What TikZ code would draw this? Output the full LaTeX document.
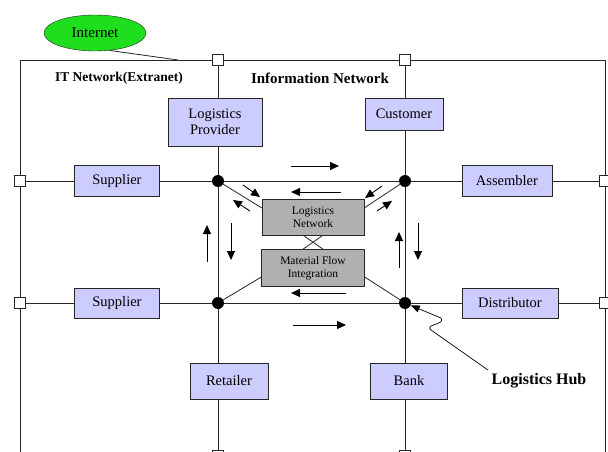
\documentclass[tikz,border=0pt]{standalone}
\usepackage{fontspec}
\setmainfont{Liberation Serif}
\usepackage{tikz}
\usetikzlibrary{positioning, shapes.geometric, arrows.meta, calc}

\definecolor{partyblue}{RGB}{204,204,255}
\definecolor{coregrey}{RGB}{176,176,176}
\definecolor{webgreen}{RGB}{30,222,30}

\begin{document}
\begin{tikzpicture}[x=1pt, y=-1pt,
            party/.style={draw=black!85, fill=partyblue, rectangle, inner sep=0pt, align=center, font=\fontsize{14.5}{16}\selectfont},
            core/.style={draw=black!85, fill=coregrey, rectangle, inner sep=0pt, align=center, font=\fontsize{11.5}{13}\selectfont},
            hub/.style={circle, fill=black, inner sep=0pt, minimum size=12pt},
            port/.style={draw=black!85, fill=white, rectangle, inner sep=0pt, minimum size=11pt},
            link/.style={draw=black!85, line width=0.8pt},
            flow/.style={line width=0.9pt, -{Triangle[length=9pt, width=8pt]}},
            title/.style={font=\bfseries\fontsize{13.5}{15}\selectfont}
        ]

        \useasboundingbox (0,0) rectangle (608,452);
        \clip (0,0) rectangle (608,452);

        % frame of the extranet
        \draw[link] (20,470) -- (20,60) -- (605,60) -- (605,470);

        % ports
        \node[port] (pt1) at (218,60) {};
        \node[port] (pt2) at (405,60) {};
        \node[port] (pl1) at (20,181) {};
        \node[port] (pl2) at (20,303) {};
        \node[port] (pr1) at (605,181) {};
        \node[port] (pr2) at (605,303) {};
        \node[port] (pb1) at (218,456) {};
        \node[port] (pb2) at (405,456) {};

        % hubs
        \node[hub] (h1) at (218,181) {};
        \node[hub] (h2) at (405,181) {};
        \node[hub] (h3) at (218,303) {};
        \node[hub] (h4) at (405,303) {};

        % partners
        \node[party, minimum width=94pt, minimum height=48pt] (lp) at (215,122) {Logistics\\Provider};
        \node[party, minimum width=78pt, minimum height=32pt] (cu) at (404,114) {Customer};
        \node[party, minimum width=85pt, minimum height=31pt] (su1) at (117,181) {Supplier};
        \node[party, minimum width=85pt, minimum height=30pt] (su2) at (117,303) {Supplier};
        \node[party, minimum width=90pt, minimum height=31pt] (as) at (507,181) {Assembler};
        \node[party, minimum width=96pt, minimum height=30pt] (di) at (510,303) {Distributor};
        \node[party, minimum width=78pt, minimum height=36pt] (re) at (229,381) {Retailer};
        \node[party, minimum width=77pt, minimum height=36pt] (ba) at (409,381) {Bank};

        % core
        \node[core, minimum width=102pt, minimum height=36pt] (ln) at (313,217) {Logistics\\Network};
        \node[core, minimum width=103pt, minimum height=37pt, below=14pt of ln] (mf) {Material Flow\\Integration};

        % internet
        \node[ellipse, draw=black!85, fill=webgreen, minimum width=102pt, minimum height=36pt, font=\fontsize{15}{17}\selectfont] (inet) at (95,33) {Internet};
        \coordinate (tap) at (178,60);
        \draw[link] (inet.-50) -- (tap);

        % titles
        \node[title] (itnet) at (119,78) {IT Network(Extranet)};
        \node[title, font=\bfseries\fontsize{15}{17}\selectfont] (infonet) at (320,78) {Information Network};
        \node[title, font=\bfseries\fontsize{16}{18}\selectfont] (lhub) at (539,381) {Logistics Hub};

        % vertical lines
        \draw[link] (pt1) -- (pt1 |- lp.north);
        \draw[link] (h1 |- lp.south) -- (h1) -- (h3) -- (h3 |- re.north);
        \draw[link] (h3 |- re.south) -- (pb1);
        \draw[link] (pt2) -- (pt2 |- cu.north);
        \draw[link] (h2 |- cu.south) -- (h2) -- (h4) -- (h4 |- ba.north);
        \draw[link] (h4 |- ba.south) -- (pb2);

        % horizontal lines
        \draw[link] (pl1) -- (su1);
        \draw[link] (su1) -- (h1) -- (h2) -- (as);
        \draw[link] (as) -- (pr1);
        \draw[link] (pl2) -- (su2);
        \draw[link] (su2) -- (h3) -- (h4) -- (di);
        \draw[link] (di) -- (pr2);

        % hubs to core
        \draw[link] (h1) -- (ln.170);
        \draw[link] (h2) -- (ln.10);
        \draw[link] (h3) -- (mf.190);
        \draw[link] (h4) -- (mf.-10);
        \draw[link] ($(ln.south)+(-10,0)$) -- ($(mf.north)+(10,0)$);
        \draw[link] ($(ln.south)+(10,0)$) -- ($(mf.north)+(-10,0)$);

        % flows
        \draw[flow] (291,166) -- (339,166);
        \draw[flow] (341,192) -- (291,192);
        \draw[flow] (346,293) -- (291,293);
        \draw[flow] (293,325) -- (346,325);
        \draw[flow] (207,262) -- (207,225);
        \draw[flow] (231,223) -- (231,260);
        \draw[flow] (399,268) -- (399,232);
        \draw[flow] (418,223) -- (418,260);
        \draw[flow] (243,185) -- (260,197);
        \draw[flow] (250,211) -- (233,200);
        \draw[flow] (382,186) -- (365,198);
        \draw[flow] (377,211) -- (392,201);

        % pointer to the hub
        \draw[line width=0.7pt, -{Triangle[length=9pt, width=7pt]}] (lhub.north west) -- (431,330)
            .. controls (424,324) and (446,325) .. (441,318) -- (h4);

    \end{tikzpicture}
\end{document}
